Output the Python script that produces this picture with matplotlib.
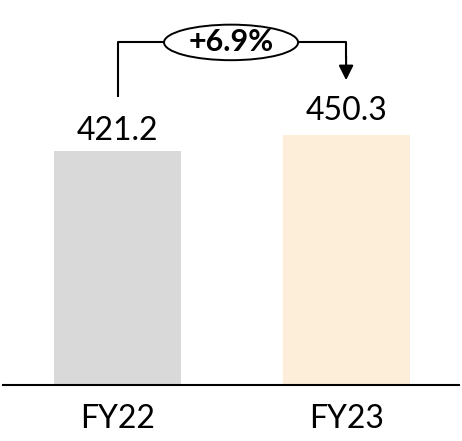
import matplotlib.pyplot as plt
from matplotlib.patches import Ellipse

plt.rcParams['font.family'] = ['Lato', 'DejaVu Sans']

years = ['FY22', 'FY23']
revenue = [421.2, 450.3]
bar_colors = ['#d9d9d9', '#fdeeda']

growth = (revenue[1] / revenue[0] - 1) * 100

fig = plt.figure(figsize=(4.62, 4.41), dpi=100)
ax = fig.add_axes([3 / 462, 56 / 441, 456 / 462, 385 / 441])

x = list(range(len(years)))
ax.bar(x, revenue, width=0.556, color=bar_colors, zorder=2)

# value labels above each bar
label_offsets = [8, 11]
for xi, v, off in zip(x, revenue, label_offsets):
	ax.annotate('%.1f' % v, (xi, v), xytext=(0, off), textcoords='offset points',
				ha='center', va='baseline', fontsize=23, color='black')

ax.set_xlim(-0.501, 1.494)
ax.set_ylim(0, 693.4)
ax.set_xticks(x)
ax.set_xticklabels(years, fontsize=23)
ax.tick_params(axis='x', length=0, pad=14)
ax.set_yticks([])
for s in ['top', 'left', 'right']:
	ax.spines[s].set_visible(False)
ax.spines['bottom'].set_linewidth(1.5)
ax.spines['bottom'].set_color('black')

# growth bracket with arrow
lw = 1.5
y_top = 617
ell_l, ell_r = 0.2035, 0.79
ax.plot([0, 0, ell_l], [518, y_top, y_top], color='black', lw=lw, solid_capstyle='butt', clip_on=False)
ax.plot([ell_r, 1, 1], [y_top, y_top, 590], color='black', lw=lw, clip_on=False)
ax.annotate('', xy=(1, 549), xytext=(1, 592),
			arrowprops=dict(arrowstyle='-|>', color='black', lw=lw, mutation_scale=22, shrinkA=0, shrinkB=0))
ax.add_patch(Ellipse(((ell_l + ell_r) / 2, y_top), ell_r - ell_l, 64, facecolor='white',
					 edgecolor='black', lw=1.4, clip_on=False, zorder=3))
ax.text((ell_l + ell_r) / 2, y_top, '+%.1f%%' % growth, ha='center', va='center',
		fontsize=22, fontweight='bold', zorder=4)

fig.savefig('out.png', dpi=100)
